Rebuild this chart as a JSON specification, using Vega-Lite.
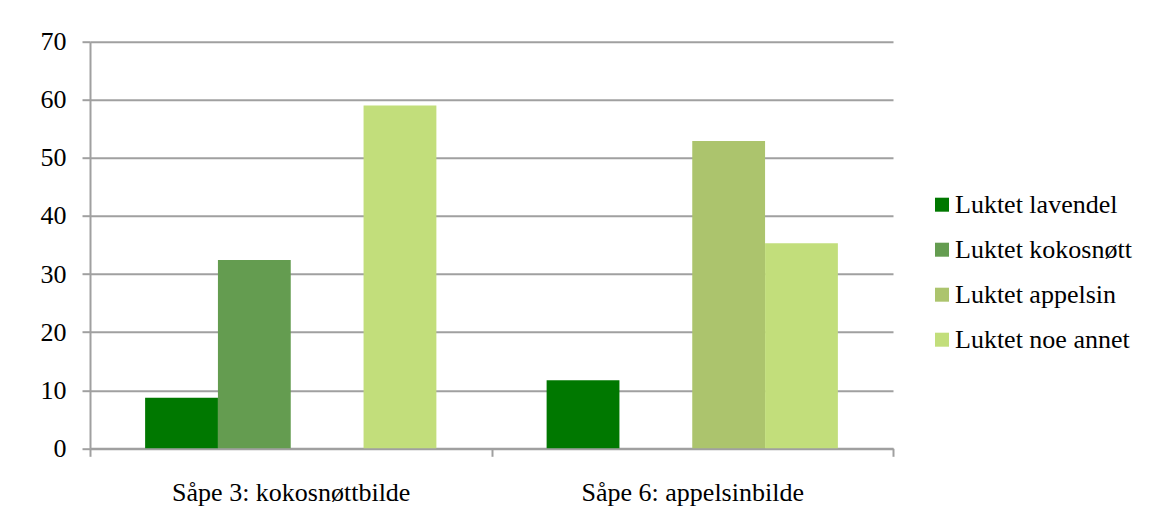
{
  "$schema": "https://vega.github.io/schema/vega-lite/v6.json",
  "autosize": {"type": "none"},
  "width": 803,
  "height": 406.6,
  "padding": {"left": 90, "top": 41.7, "right": 259, "bottom": 75.7},
  "background": "white",
  "data": {
    "values": [
      {"sape": "Såpe 3: kokosnøttbilde", "lukt": "Luktet lavendel", "prosent": 8.7},
      {"sape": "Såpe 3: kokosnøttbilde", "lukt": "Luktet kokosnøtt", "prosent": 32.4},
      {"sape": "Såpe 3: kokosnøttbilde", "lukt": "Luktet appelsin", "prosent": 0},
      {"sape": "Såpe 3: kokosnøttbilde", "lukt": "Luktet noe annet", "prosent": 59.0},
      {"sape": "Såpe 6: appelsinbilde", "lukt": "Luktet lavendel", "prosent": 11.7},
      {"sape": "Såpe 6: appelsinbilde", "lukt": "Luktet kokosnøtt", "prosent": 0},
      {"sape": "Såpe 6: appelsinbilde", "lukt": "Luktet appelsin", "prosent": 52.9},
      {"sape": "Såpe 6: appelsinbilde", "lukt": "Luktet noe annet", "prosent": 35.3}
    ]
  },
  "mark": {"type": "bar"},
  "encoding": {
    "x": {
      "field": "sape",
      "type": "nominal",
      "sort": ["Såpe 3: kokosnøttbilde", "Såpe 6: appelsinbilde"],
      "scale": {"paddingInner": 0, "paddingOuter": 0},
      "axis": {
        "title": null,
        "labelAngle": 0,
        "labelLimit": 0,
        "tickBand": "extent",
        "tickSize": 8,
        "labelPadding": 23,
        "grid": false
      }
    },
    "xOffset": {
      "field": "lukt",
      "type": "nominal",
      "sort": ["Luktet lavendel", "Luktet kokosnøtt", "Luktet appelsin", "Luktet noe annet"],
      "scale": {"paddingInner": 0, "paddingOuter": 0.757}
    },
    "y": {
      "field": "prosent",
      "type": "quantitative",
      "scale": {"domain": [0, 70], "nice": false},
      "axis": {
        "title": null,
        "values": [0, 10, 20, 30, 40, 50, 60, 70],
        "tickSize": 8,
        "labelPadding": 16,
        "grid": true
      }
    },
    "color": {
      "field": "lukt",
      "type": "nominal",
      "sort": ["Luktet lavendel", "Luktet kokosnøtt", "Luktet appelsin", "Luktet noe annet"],
      "scale": {
        "domain": ["Luktet lavendel", "Luktet kokosnøtt", "Luktet appelsin", "Luktet noe annet"],
        "range": ["#007800", "#649c50", "#acc46d", "#c2de7b"]
      },
      "legend": {
        "title": null,
        "orient": "none",
        "legendX": 839,
        "legendY": 150,
        "symbolType": "square",
        "symbolSize": 196,
        "symbolStrokeWidth": 0,
        "labelOffset": 0,
        "rowPadding": 19
      }
    }
  },
  "config": {
    "font": "Liberation Serif, Times New Roman, serif",
    "view": {"stroke": null},
    "axis": {
      "domainColor": "#a0a0a0",
      "domainWidth": 2,
      "tickColor": "#a0a0a0",
      "tickWidth": 2,
      "gridColor": "#a0a0a0",
      "gridWidth": 2,
      "labelFont": "Liberation Serif, Times New Roman, serif",
      "labelFontSize": 26,
      "labelColor": "#000000"
    },
    "legend": {
      "labelFont": "Liberation Serif, Times New Roman, serif",
      "labelFontSize": 26,
      "labelColor": "#000000",
      "labelLimit": 400
    }
  }
}
